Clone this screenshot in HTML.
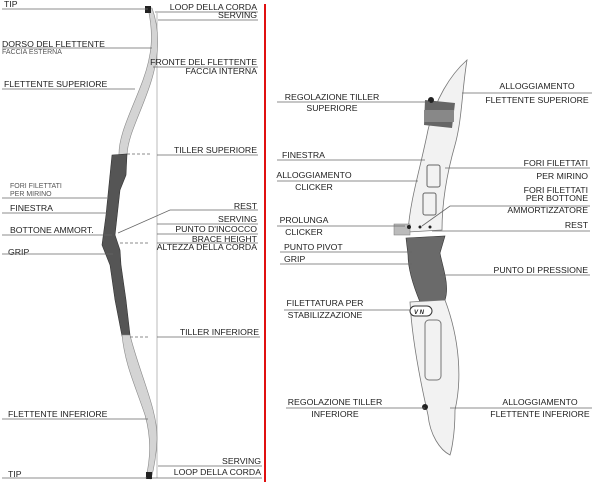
<!DOCTYPE html>
<html><head><meta charset="utf-8"><style>
html,body{margin:0;padding:0;background:#fff;}
svg{display:block;}
text{font-family:"Liberation Sans",sans-serif;font-size:8.7px;fill:#222;}
.s{font-size:7px;fill:#555;}
line,polyline{stroke:#666;stroke-width:0.8;fill:none;}
</style></head><body>
<svg width="600" height="489" viewBox="0 0 600 489" xmlns="http://www.w3.org/2000/svg">
<rect x="264" y="4" width="2" height="478" fill="#e01010"/>
<!-- LEFT BOW -->
<line x1="157" y1="13" x2="157" y2="478" style="stroke:#aaa"/>
<path d="M148,8 L152,8 C160,30 160,55 150,85 C140,115 128,135 127,155 L119,156 C118,135 132,110 143,80 C152,55 154,35 148,8 Z" fill="#d4d4d4" stroke="#888" stroke-width="0.6"/>
<path d="M112,155 L127,154 L126,175 L120,190 L115,235 L120,250 L121,265 L126,300 L130,335 L122,336 L115,300 L110,265 L102,245 L106,215 L109,185 Z" fill="#555" stroke="#333" stroke-width="0.6"/>
<path d="M122,335 L130,335 C140,375 158,410 157,440 C156,460 153,472 151,479 L146,478 C150,460 152,440 145,415 C135,385 125,365 122,335 Z" fill="#d4d4d4" stroke="#888" stroke-width="0.6"/>
<rect x="145" y="6" width="6" height="7" fill="#222"/>
<rect x="146" y="472" width="6" height="7" fill="#222"/>
<text x="4" y="7">TIP</text><line x1="2" y1="9" x2="148" y2="9"/>
<text x="2" y="47">DORSO DEL FLETTENTE</text><text class="s" x="2" y="54">FACCIA ESTERNA</text><line x1="2" y1="48" x2="152" y2="48"/>
<text x="4" y="87">FLETTENTE SUPERIORE</text><line x1="2" y1="89" x2="135" y2="89"/>
<text class="s" x="10" y="188">FORI FILETTATI</text><text class="s" x="10" y="196">PER MIRINO</text><line x1="2" y1="198" x2="107" y2="198"/>
<text x="10" y="211">FINESTRA</text><line x1="2" y1="213" x2="107" y2="213"/>
<text x="10" y="233">BOTTONE AMMORT.</text><line x1="2" y1="235" x2="112" y2="235"/>
<text x="8" y="255">GRIP</text><line x1="2" y1="254" x2="113" y2="254"/>
<text x="8" y="417">FLETTENTE INFERIORE</text><line x1="2" y1="419" x2="148" y2="419"/>
<text x="8" y="477">TIP</text><line x1="2" y1="478" x2="147" y2="478"/>
<g text-anchor="end">
<text x="257" y="10">LOOP DELLA CORDA</text><line x1="155" y1="12" x2="258" y2="12"/>
<text x="257" y="18">SERVING</text><line x1="158" y1="20" x2="258" y2="20"/>
<text x="257" y="65">FRONTE DEL FLETTENTE</text><text x="257" y="74">FACCIA INTERNA</text><line x1="153" y1="67" x2="258" y2="67"/>
<text x="257" y="153">TILLER SUPERIORE</text><line x1="157" y1="155" x2="258" y2="155"/>
<text x="257" y="209">REST</text>
<text x="257" y="222">SERVING</text><line x1="157" y1="224" x2="258" y2="224"/>
<text x="257" y="232">PUNTO D'INCOCCO</text><line x1="157" y1="234" x2="258" y2="234"/>
<text x="257" y="242">BRACE HEIGHT</text><line x1="157" y1="243" x2="258" y2="243"/>
<text x="257" y="250">ALTEZZA DELLA CORDA</text>
<text x="259" y="335">TILLER INFERIORE</text><line x1="157" y1="337" x2="260" y2="337"/>
<text x="261" y="464">SERVING</text><line x1="158" y1="466" x2="262" y2="466"/>
<text x="261" y="475">LOOP DELLA CORDA</text><line x1="152" y1="478" x2="262" y2="478"/>
</g>
<polyline points="118,233 170,210 258,210"/>
<line x1="127" y1="154" x2="150" y2="154" style="stroke-dasharray:3,2"/>
<line x1="130" y1="337" x2="150" y2="337" style="stroke-dasharray:3,2"/>
<line x1="120" y1="243" x2="150" y2="243" style="stroke-dasharray:3,2"/>
<!-- RIGHT RISER -->
<path d="M467,60 C462,90 462,120 455,145 C445,180 442,210 442,230 L408,232 C410,200 420,170 428,130 C435,100 450,75 467,60 Z" fill="#f2f2f2" stroke="#777" stroke-width="0.8"/>
<path d="M425,100 L455,103 L452,128 L424,125 Z" fill="#666"/>
<rect x="424" y="110" width="30" height="12" fill="#888"/>
<rect x="427" y="165" width="13" height="22" fill="none" stroke="#666" rx="2"/>
<rect x="423" y="193" width="13" height="22" fill="none" stroke="#666" rx="2"/>
<rect x="394" y="224" width="16" height="11" fill="#bbb" stroke="#777" stroke-width="0.5"/>
<circle cx="409" cy="227" r="2" fill="#222"/><circle cx="420" cy="227" r="1.5" fill="#222"/><circle cx="430" cy="227" r="1.5" fill="#222"/>
<path d="M406,238 L445,236 L440,253 C442,265 450,285 445,300 L420,302 C415,290 408,270 408,255 Z" fill="#6a6a6a" stroke="#333" stroke-width="0.6"/>
<path d="M410,302 L445,300 C460,340 462,380 455,410 C455,440 450,455 450,455 C440,450 430,435 428,415 C420,380 412,340 410,302 Z" fill="#f2f2f2" stroke="#777" stroke-width="0.8"/>
<rect x="410" y="306" width="22" height="10" rx="5" fill="#fff" stroke="#333"/>
<text x="414" y="314" style="font-size:6px;font-weight:bold;font-style:italic">V N</text>
<rect x="425" y="320" width="16" height="60" fill="none" stroke="#777" rx="4"/>
<circle cx="431" cy="100" r="3" fill="#222"/><circle cx="425" cy="407" r="3" fill="#222"/>
<g text-anchor="middle">
<text x="332" y="100">REGOLAZIONE TILLER</text><text x="332" y="111">SUPERIORE</text>
<text x="537" y="89">ALLOGGIAMENTO</text><text x="537" y="103">FLETTENTE SUPERIORE</text>
<text x="314" y="178">ALLOGGIAMENTO</text><text x="314" y="190">CLICKER</text>
<text x="304" y="223">PROLUNGA</text><text x="304" y="235">CLICKER</text>
<text x="325" y="306">FILETTATURA PER</text><text x="325" y="318">STABILIZZAZIONE</text>
<text x="335" y="405">REGOLAZIONE TILLER</text><text x="335" y="417">INFERIORE</text>
<text x="540" y="405">ALLOGGIAMENTO</text><text x="540" y="417">FLETTENTE INFERIORE</text>
</g>
<line x1="277" y1="102" x2="430" y2="102"/><line x1="462" y1="93" x2="592" y2="93"/>
<text x="282" y="158">FINESTRA</text><line x1="277" y1="160" x2="425" y2="160"/>
<line x1="277" y1="181" x2="418" y2="181"/>
<line x1="277" y1="226" x2="405" y2="226"/>
<text x="284" y="250">PUNTO PIVOT</text><line x1="280" y1="252" x2="412" y2="252"/>
<text x="284" y="262">GRIP</text><line x1="280" y1="264" x2="412" y2="264"/>
<line x1="284" y1="310" x2="410" y2="310"/>
<line x1="286" y1="408" x2="425" y2="408"/><line x1="450" y1="408" x2="592" y2="408"/>
<g text-anchor="end">
<text x="588" y="166">FORI FILETTATI</text><text x="588" y="179">PER MIRINO</text>
<text x="588" y="193">FORI FILETTATI</text><text x="588" y="201">PER BOTTONE</text><text x="588" y="213">AMMORTIZZATORE</text>
<text x="588" y="228">REST</text>
<text x="588" y="273">PUNTO DI PRESSIONE</text>
</g>
<line x1="445" y1="168" x2="590" y2="168"/>
<polyline points="422,226 450,206 590,206"/>
<line x1="432" y1="231" x2="590" y2="231"/>
<line x1="440" y1="275" x2="590" y2="275"/>
</svg>
</body></html>
